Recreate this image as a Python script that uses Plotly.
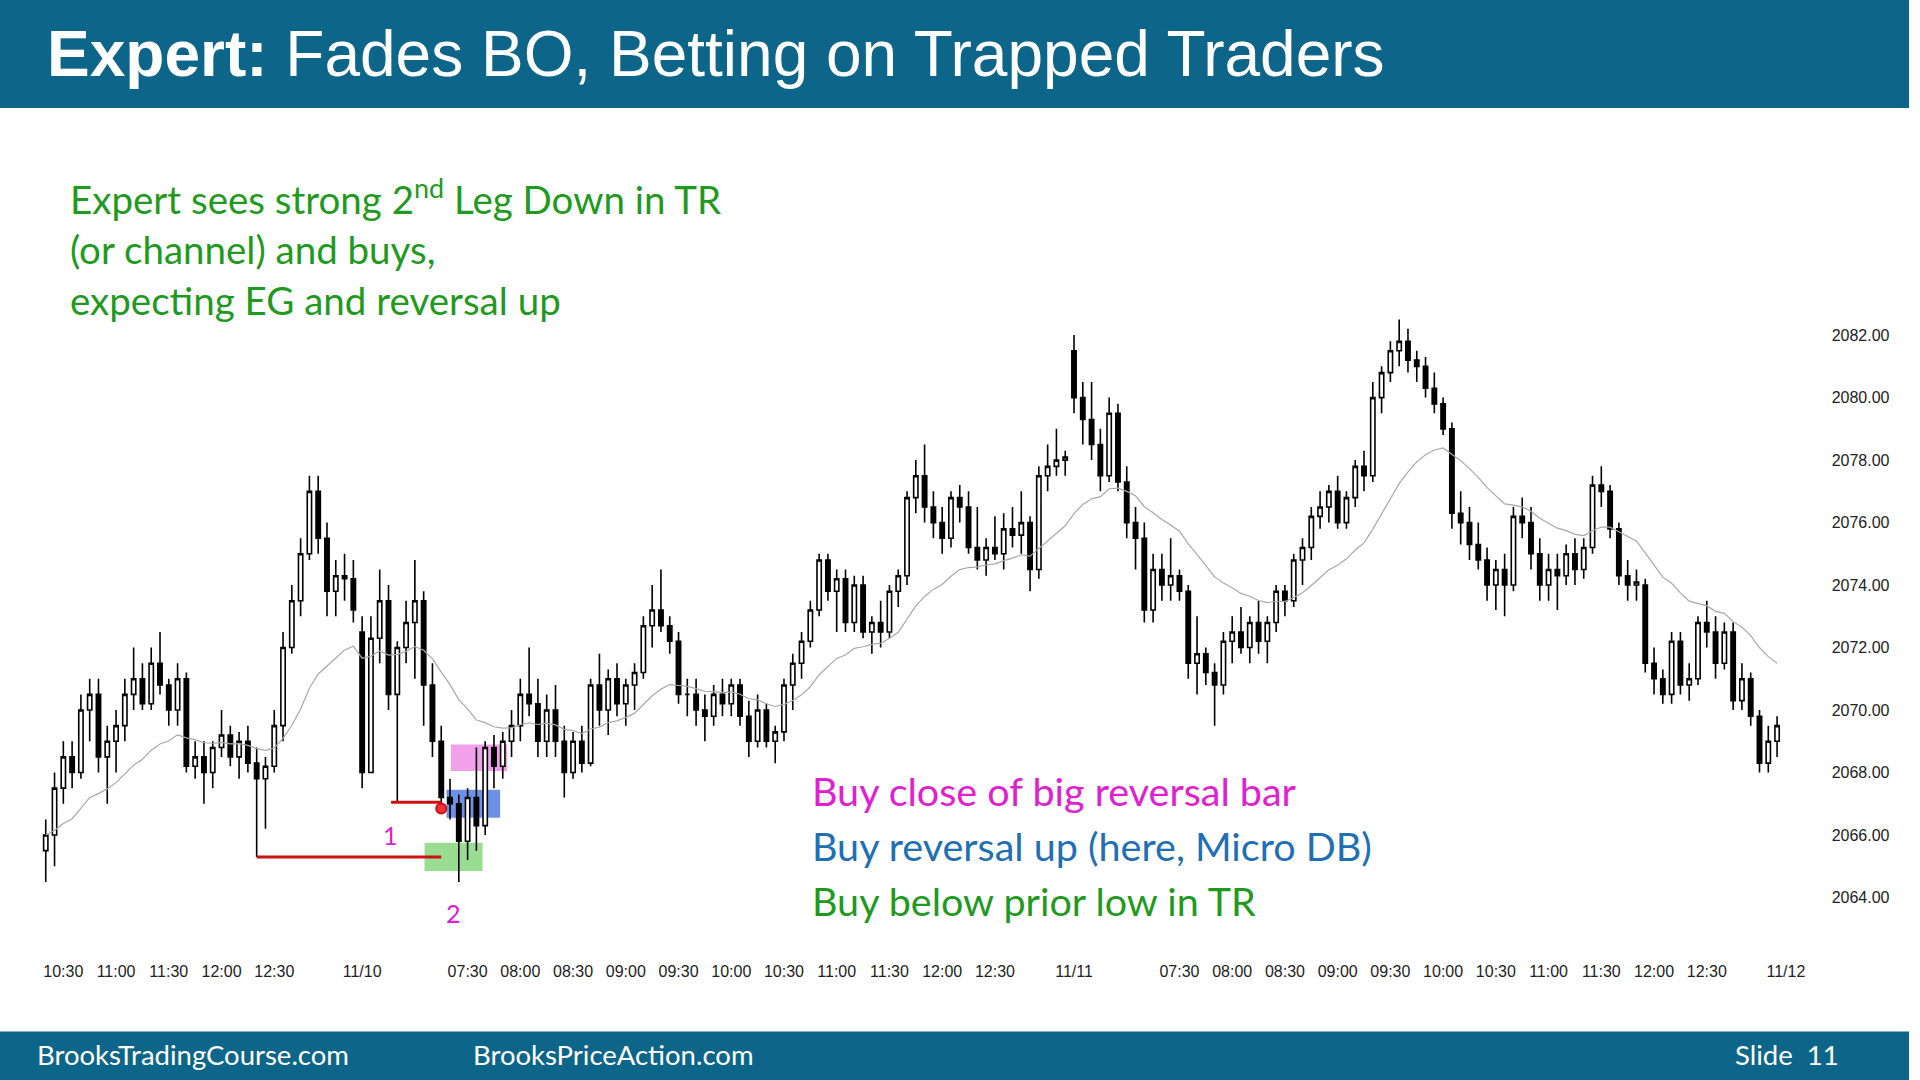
import pandas as pd
import plotly.graph_objects as go

# 5-min bars, three sessions (11/9 afternoon, 11/10, 11/11)
opens = [
  2065.5,2066,2067.5,2068.5,2068,2070,2070.5,2068.5,2069,2069.5,2070.5,2071,2070.2,2071.5,2070.8,2070,2071,2068.2,
  2068.5,2068,2068.8,2069.2,2068.5,2069,2068.3,2067.8,2068.2,2069.5,2072,2073.5,2075,2077,2075.5,2073.8,2074.3,2074.2,
  2072.5,2068,2072.3,2073.5,2070.5,2072,2072.8,2073.5,2070.8,2069,
  2067.2,2067,2065.8,2067.2,2066.3,2068.8,2068.2,2069,2069.5,2070.5,
  2070.2,2069,2070,2069,2068,2069,2068.3,2070.8,2070,2071,
  2070.2,2070.8,2071.2,2072.7,2073.2,2072.7,2072.2,2070.5,2070.5,2070,
  2069.8,2070.5,2070.2,2070.8,2069.8,2069,2070,2069,2069.3,2070.8,
  2071.5,2072.2,2073.2,2074.8,2073.8,2074.2,2072.8,2074,2072.5,2072.8,
  2072.5,2073.8,2074.3,2076.8,2077.5,2076.5,2076,2075.5,2076.8,2076.5,
  2075.2,2074.8,2075.2,2075,2075.8,2075.6,2076,2074.5,2077.5,2077.8,
  2078,
  2081.5,2080,2079.3,2078.5,2077.5,2079.5,2077.3,2076,2075.5,2073.2,
  2074.5,2074,2074.3,2073.8,2071.5,2071.8,2071.2,2070.8,2072.2,2072.5,
  2072,2072.8,2072.2,2072.8,2073.8,2073.5,2074.8,2075.2,2076.2,2076.5,
  2077,2076,2076.8,2077.8,2077.5,2080,2080.8,2081.5,2081.8,2081.2,
  2081,2080.3,2079.8,2079,2076.3,2076,2075.3,2074.8,2074,2074.5,
  2074,2076.2,2076,2075,2074,2074.5,2074.3,2075,2074.5,2075.2,
  2077.2,2077,2075.8,2074.3,2074,2074,2071.5,2071,2070.5,2072.2,
  2070.8,2071,2072.8,2072.5,2071.5,2072.5,2070.3,2071,2069.8,2068.3,
  2069,
]
highs = [
  2066.5,2068,2069,2069,2070.5,2071,2071,2069.5,2070,2071,2072,2071.5,2072,2072.5,2071,2071.5,2071.2,2069,
  2069,2069,2070,2069.5,2069.3,2069.5,2068.8,2068.5,2070,2072.5,2074,2075.5,2077.5,2077.5,2076,2074.8,2075,2074.8,
  2073,2073,2074.5,2074,2072.2,2073.5,2074.8,2073.8,2071.5,2069.5,
  2067.8,2067.3,2067.5,2068.8,2069,2069.2,2069.3,2070,2071,2072,
  2071,2070.5,2070.8,2069.5,2069.3,2069.5,2071,2071.8,2071.3,2071.5,
  2071,2071.5,2073,2074,2074.5,2073,2072.5,2071,2071,2070.5,
  2070.8,2071,2071,2071,2070.3,2070.5,2070.2,2069.5,2071,2071.8,
  2072.5,2073.5,2075,2075,2074.5,2074.5,2074.3,2074.3,2073,2073.5,
  2074,2074.5,2077,2078,2078.5,2077,2076.5,2077,2077.2,2077,
  2076.5,2075.5,2076.2,2076.3,2076.5,2077,2076.2,2077.8,2078.5,2079,
  2078.3,
  2082,2080.5,2080.5,2079,2080,2079.8,2077.8,2076.5,2076,2075,
  2075,2075.5,2074.5,2074,2073,2072,2071.5,2072.5,2073,2073.3,
  2073,2073.5,2073,2074,2074,2075,2075.5,2076.5,2077,2077.2,
  2077.5,2077,2078,2078.3,2080.5,2081,2081.8,2082.5,2082.2,2081.5,
  2081.3,2080.8,2080,2079.2,2077,2076.5,2076,2075.2,2074.8,2075,
  2076.5,2076.8,2076.5,2075.5,2075,2075,2075.3,2075.5,2075.5,2077.5,
  2077.8,2077.2,2076,2074.8,2074.5,2074.2,2072,2071.3,2072.5,2072.5,
  2071.5,2073,2073.5,2073,2072.8,2072.8,2071.5,2071.2,2070,2069.5,
  2069.8,
]
lows = [
  2064.5,2065,2067,2067.5,2067.8,2069,2068,2067,2068,2069,2070,2070,2070,2070.5,2069.5,2069.5,2068,2067.8,
  2067,2067.5,2068.5,2068.2,2067.8,2068,2065.3,2066.2,2068,2069,2071.8,2073,2074.8,2075,2073,2073,2073.5,2072.8,
  2067.5,2068,2071.5,2070,2067.05,2071.5,2071,2069.5,2068.5,2067,
  2066.5,2064.5,2065.2,2065.5,2066,2067.5,2067.8,2068.5,2069,2069.8,
  2068.5,2068.5,2068.5,2067.2,2067.8,2068,2068.2,2069.5,2069.2,2069.8,
  2069.5,2070,2071,2072,2072.5,2071.8,2070.2,2069.8,2069.5,2069,
  2069.5,2069.8,2069.8,2069.5,2068.5,2068.8,2068.8,2068.3,2069,2070,
  2071,2072,2073,2073.5,2072.5,2072.5,2072.5,2072.3,2071.8,2072,
  2072.3,2073.3,2074,2076.3,2076,2075.5,2075,2075.2,2076,2075,
  2074.5,2074.3,2074.8,2074.5,2075.2,2075,2073.8,2074.2,2077,2077.5,
  2077.5,
  2079.5,2078.5,2078,2077,2077.3,2077,2075.5,2074.5,2072.8,2072.8,
  2073.5,2073.5,2073.5,2071,2070.5,2070.8,2069.5,2070.5,2071.5,2071.8,
  2071.5,2071.8,2071.5,2072.5,2073,2073.3,2074,2074.8,2075.8,2076,
  2075.8,2075.8,2076.5,2077,2077.3,2079.5,2080.5,2081,2080.8,2080.5,
  2080,2079.5,2078.8,2075.8,2075.3,2074.8,2074.5,2073.5,2073.2,2073,
  2073.8,2075.5,2074.5,2073.5,2073.5,2073.2,2074,2074,2074.2,2075,
  2076.5,2075.5,2074,2073.5,2073.5,2071.2,2070.5,2070.2,2070.2,2070.5,
  2070.3,2070.8,2072,2071,2071.3,2070,2070,2069.5,2068,2068,
  2068.5,
]
closes = [
  2066,2067.5,2068.5,2068,2070,2070.5,2068.5,2069,2069.5,2070.5,2071,2070.2,2071.5,2070.8,2070,2071,2068.2,2068.5,
  2068,2068.8,2069.2,2068.5,2069,2068.3,2067.8,2068.2,2069.5,2072,2073.5,2075,2077,2075.5,2073.8,2074.3,2074.2,2073.2,
  2068,2072.3,2073.5,2070.5,2072,2072.8,2073.5,2070.8,2069,2067.2,
  2067,2065.8,2067.2,2066.3,2068.8,2068.2,2069,2069.5,2070.5,2070.2,
  2069,2070,2069,2068,2069,2068.3,2070.8,2070,2071,2070.2,
  2070.8,2071.2,2072.7,2073.2,2072.7,2072.2,2070.5,2070.5,2070,2069.8,
  2070.5,2070.2,2070.8,2069.8,2069,2070,2069,2069.3,2070.8,2071.5,
  2072.2,2073.2,2074.8,2073.8,2074.2,2072.8,2074,2072.5,2072.8,2072.5,
  2073.8,2074.3,2076.8,2077.5,2076.5,2076,2075.5,2076.8,2076.5,2075.2,
  2074.8,2075.2,2075,2075.8,2075.6,2076,2074.5,2077.5,2077.8,2078,
  2078.1,
  2080,2079.3,2078.5,2077.5,2079.5,2077.3,2076,2075.5,2073.2,2074.5,
  2074,2074.3,2073.8,2071.5,2071.8,2071.2,2070.8,2072.2,2072.5,2072,
  2072.8,2072.2,2072.8,2073.8,2073.5,2074.8,2075.2,2076.2,2076.5,2077,
  2076,2076.8,2077.8,2077.5,2080,2080.8,2081.5,2081.8,2081.2,2081,
  2080.3,2079.8,2079,2076.3,2076,2075.3,2074.8,2074,2074.5,2074,
  2076.2,2076,2075,2074,2074.5,2074.3,2075,2074.5,2075.2,2077.2,
  2077,2075.8,2074.3,2074,2074.1,2071.5,2071,2070.5,2072.2,2070.8,
  2071,2072.8,2072.5,2071.5,2072.5,2070.3,2071,2069.8,2068.3,2069,
  2069.5,
]

tick_pos = [2, 8, 14, 20, 26, 36, 48, 54, 60, 66, 72, 78, 84, 90, 96, 102, 108,
            117, 129, 135, 141, 147, 153, 159, 165, 171, 177, 183, 189, 198]
tick_txt = ['10:30', '11:00', '11:30', '12:00', '12:30', '11/10', '07:30', '08:00', '08:30',
            '09:00', '09:30', '10:00', '10:30', '11:00', '11:30', '12:00', '12:30', '11/11',
            '07:30', '08:00', '08:30', '09:00', '09:30', '10:00', '10:30', '11:00', '11:30',
            '12:00', '12:30', '11/12']
price_ticks = [2064, 2066, 2068, 2070, 2072, 2074, 2076, 2078, 2080, 2082]

df = pd.DataFrame({'open': opens, 'high': highs, 'low': lows, 'close': closes})
df['ema'] = df['close'].ewm(span=20, adjust=False).mean()
xs = list(range(len(df)))

TEAL = '#0d6689'
GREEN = '#1f9a1f'
MAGENTA = '#e020d0'
BLUE = '#1f6fb5'

fig = go.Figure()
fig.add_trace(go.Scatter(x=xs, y=df['ema'], mode='lines',
                         line=dict(color='#a8a8a8', width=1.2), hoverinfo='skip'))
fig.add_trace(go.Candlestick(
  x=xs, open=df['open'], high=df['high'], low=df['low'], close=df['close'],
  increasing=dict(line=dict(color='black', width=1.6), fillcolor='white'),
  decreasing=dict(line=dict(color='black', width=1.6), fillcolor='black'),
  whiskerwidth=0,
))

# setup markers
fig.add_shape(type='rect', x0=46.1, x1=52.5, y0=2068.05, y1=2068.9, xref='x', yref='y',
              fillcolor='rgba(235,120,225,0.7)', line_width=0, layer='below')
fig.add_shape(type='rect', x0=45.6, x1=51.7, y0=2066.55, y1=2067.45, xref='x', yref='y',
              fillcolor='rgba(60,110,220,0.75)', line_width=0, layer='below')
fig.add_shape(type='rect', x0=43.1, x1=49.7, y0=2064.85, y1=2065.75, xref='x', yref='y',
              fillcolor='rgba(120,210,110,0.75)', line_width=0, layer='below')
fig.add_shape(type='line', x0=24, x1=45, y0=2065.3, y1=2065.3, xref='x', yref='y',
              line=dict(color='#cc1111', width=3))
fig.add_shape(type='line', x0=39.3, x1=45, y0=2067.05, y1=2067.05, xref='x', yref='y',
              line=dict(color='#cc1111', width=3))
fig.add_trace(go.Scatter(x=[45], y=[2066.85], mode='markers',
                         marker=dict(color='#ee3333', size=10, line=dict(color='#cc1111', width=2))))

# header / footer bars
fig.add_shape(type='rect', xref='paper', yref='paper', x0=0, x1=1, y0=0.9, y1=1,
              fillcolor=TEAL, line_width=0)
fig.add_shape(type='rect', xref='paper', yref='paper', x0=0, x1=1, y0=0, y1=0.045,
              fillcolor=TEAL, line_width=0)

def note(text, x, y, size, color, xref='paper', yref='paper', xanchor='left', family='Lato'):
  fig.add_annotation(text=text, x=x, y=y, xref=xref, yref=yref, showarrow=False,
                     xanchor=xanchor, yanchor='middle', align='left',
                     font=dict(size=size, color=color, family=family))

note('<b>Expert:</b> Fades BO, Betting on Trapped Traders', 45/1920, 1 - 54/1080, 64, 'white',
     family='Liberation Sans')
note('BrooksTradingCourse.com', 35/1920, 1 - 1054/1080, 27.5, 'white')
note('BrooksPriceAction.com', 474/1920, 1 - 1054/1080, 27.5, 'white')
note('Slide  11', 1852/1920, 1 - 1054/1080, 27.5, 'white', xanchor='right')

note('Expert sees strong 2<sup>nd</sup> Leg Down in TR', 68/1920, 1 - 197/1080, 38.5, GREEN)
note('(or channel) and buys,', 68/1920, 1 - 249/1080, 38.5, GREEN)
note('expecting EG and reversal up', 68/1920, 1 - 300/1080, 38.5, GREEN)

note('Buy close of big reversal bar', 815/1920, 1 - 790/1080, 39.5, MAGENTA)
note('Buy reversal up (here, Micro DB)', 815/1920, 1 - 845/1080, 39.5, BLUE)
note('Buy below prior low in TR', 815/1920, 1 - 900/1080, 39.5, GREEN)

note('1', 39.2, 2066.0, 25, MAGENTA, xref='x', yref='y', xanchor='center')
note('2', 46.4, 2063.5, 25, MAGENTA, xref='x', yref='y', xanchor='center')

fig.update_layout(
  width=1920, height=1080,
  margin=dict(l=0, r=0, t=0, b=0),
  paper_bgcolor='white', plot_bgcolor='white',
  showlegend=False,
  xaxis=dict(domain=[19.5/1920, 1805/1920], range=[-3, 199], rangeslider=dict(visible=False),
             tickvals=tick_pos, ticktext=tick_txt, showgrid=False, zeroline=False,
             ticks='', tickfont=dict(size=16, color='#222', family='Liberation Sans')),
  yaxis=dict(domain=[1 - 960/1080, 1 - 257/1080], range=[2062, 2084.5], side='right',
             tickvals=price_ticks, ticktext=[f'{p:.2f}' for p in price_ticks],
             showgrid=False, zeroline=False, ticks='', ticklabelstandoff=36,
             tickfont=dict(size=16, color='#222', family='Liberation Sans')),
)

fig.write_html('out.html', config={'displayModeBar': False},
               post_script="document.body.style.margin='0';")
